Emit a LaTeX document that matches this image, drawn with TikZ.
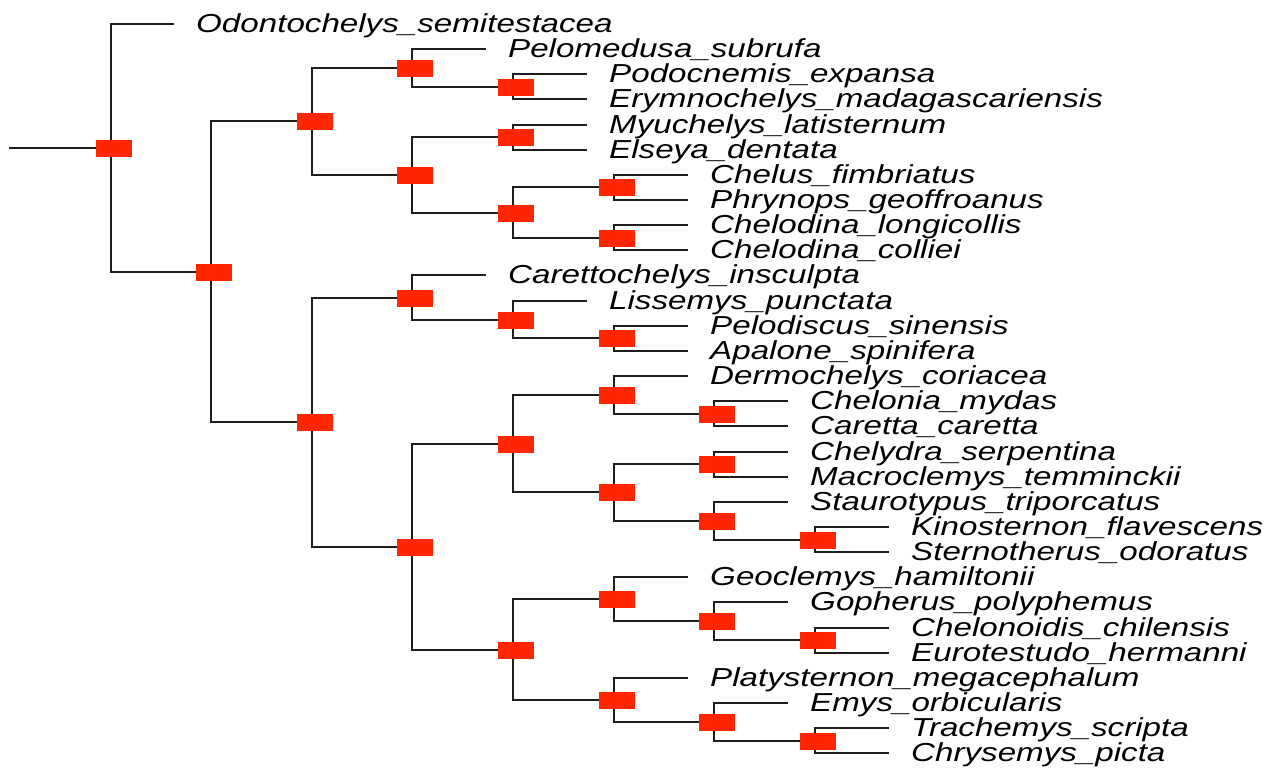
\documentclass[tikz,border=0pt]{standalone}
\usepackage{fontspec}
\usepackage{graphicx}
\newfontfamily\tipfont{Liberation Sans}
\definecolor{nodered}{RGB}{255,38,0}
\definecolor{branch}{RGB}{30,30,30}
\tikzset{
  br/.style={line width=2pt, draw=branch},
  nodebox/.style={fill=nodered, draw=none, minimum width=36pt, minimum height=17pt, inner sep=0pt, xshift=3pt},
  tiplab/.style={anchor=base west, inner sep=0pt, xshift=22pt, yshift=-8pt,
    font=\tipfont\itshape\fontsize{26}{26}\selectfont},
}
\newcommand\tl[1]{\scalebox{1.275}[1]{#1}}
\begin{document}
\begin{tikzpicture}[x=1pt,y=-1pt,
  declare function={ty(\t)=round(24+25.15*\t); lx(\d)=round(110.5+100.65*(\d-1));}]
\useasboundingbox (0,0) rectangle (1274,769);
% internal nodes
\foreach \n/\d/\t in {n1/1/4.92578125, nA/2/9.8515625, nB/3/3.875, nB1/4/1.75, nB1a/5/2.5,
  nB2/4/6, nB2a/5/4.5, nB2b/5/7.5, nB2b1/6/6.5, nB2b2/6/8.5,
  nC/3/15.828125, nC1/4/10.875, nC1a/5/11.75, nC1b/6/12.5,
  nC2/4/20.78125, nC2a/5/16.6875, nC2a1/6/14.75, nC2a1a/7/15.5,
  nC2a2/6/18.625, nC2a2a/7/17.5, nC2a2b/7/19.75, nC2a2c/8/20.5,
  nC2b/5/24.875, nC2b1/6/22.875, nC2b1a/7/23.75, nC2b1b/8/24.5,
  nC2b2/6/26.875, nC2b2a/7/27.75, nC2b2b/8/28.5}
  \coordinate (\n) at ({lx(\d)},{ty(\t)});
\coordinate (r0) at (9,{ty(4.92578125)});
% tips
\coordinate (t0) at (174,{ty(0)});
\foreach \i/\d in {1/4,2/5,3/5,4/5,5/5,6/6,7/6,8/6,9/6,10/4,11/5,12/6,13/6,14/6,15/7,16/7,
  17/7,18/7,19/7,20/8,21/8,22/6,23/7,24/8,25/8,26/6,27/7,28/8,29/8}
  \coordinate (t\i) at ({lx(\d)+74},{ty(\i)});
% labels
\foreach \i/\s in {0/Odontochelys\_semitestacea, 1/Pelomedusa\_subrufa, 2/Podocnemis\_expansa,
  3/Erymnochelys\_madagascariensis, 4/Myuchelys\_latisternum, 5/Elseya\_dentata,
  6/Chelus\_fimbriatus, 7/Phrynops\_geoffroanus, 8/Chelodina\_longicollis, 9/Chelodina\_colliei,
  10/Carettochelys\_insculpta, 11/Lissemys\_punctata, 12/Pelodiscus\_sinensis, 13/Apalone\_spinifera,
  14/Dermochelys\_coriacea, 15/Chelonia\_mydas, 16/Caretta\_caretta, 17/Chelydra\_serpentina,
  18/Macroclemys\_temminckii, 19/Staurotypus\_triporcatus, 20/Kinosternon\_flavescens,
  21/Sternotherus\_odoratus, 22/Geoclemys\_hamiltonii, 23/Gopherus\_polyphemus,
  24/Chelonoidis\_chilensis, 25/Eurotestudo\_hermanni, 26/Platysternon\_megacephalum,
  27/Emys\_orbicularis, 28/Trachemys\_scripta, 29/Chrysemys\_picta}
  \node[tiplab] (l\i) at (t\i) {\tl{\s}};
% branches
\draw[br] (r0) -- (n1);
\foreach \p/\c in {n1/t0, n1/nA, nA/nB, nA/nC, nB/nB1, nB/nB2, nB1/t1, nB1/nB1a, nB1a/t2, nB1a/t3,
  nB2/nB2a, nB2/nB2b, nB2a/t4, nB2a/t5, nB2b/nB2b1, nB2b/nB2b2, nB2b1/t6, nB2b1/t7, nB2b2/t8, nB2b2/t9,
  nC/nC1, nC/nC2, nC1/t10, nC1/nC1a, nC1a/t11, nC1a/nC1b, nC1b/t12, nC1b/t13,
  nC2/nC2a, nC2/nC2b, nC2a/nC2a1, nC2a/nC2a2, nC2a1/t14, nC2a1/nC2a1a, nC2a1a/t15, nC2a1a/t16,
  nC2a2/nC2a2a, nC2a2/nC2a2b, nC2a2a/t17, nC2a2a/t18, nC2a2b/t19, nC2a2b/nC2a2c, nC2a2c/t20, nC2a2c/t21,
  nC2b/nC2b1, nC2b/nC2b2, nC2b1/t22, nC2b1/nC2b1a, nC2b1a/t23, nC2b1a/nC2b1b, nC2b1b/t24, nC2b1b/t25,
  nC2b2/t26, nC2b2/nC2b2a, nC2b2a/t27, nC2b2a/nC2b2b, nC2b2b/t28, nC2b2b/t29}
  \draw[br] (\p) |- (\c);
% node markers
\foreach \n in {n1, nA, nB, nB1, nB1a, nB2, nB2a, nB2b, nB2b1, nB2b2, nC, nC1, nC1a, nC1b,
  nC2, nC2a, nC2a1, nC2a1a, nC2a2, nC2a2a, nC2a2b, nC2a2c, nC2b, nC2b1, nC2b1a, nC2b1b,
  nC2b2, nC2b2a, nC2b2b}
  \node[nodebox] (b\n) at (\n) {};
\end{tikzpicture}
\end{document}
